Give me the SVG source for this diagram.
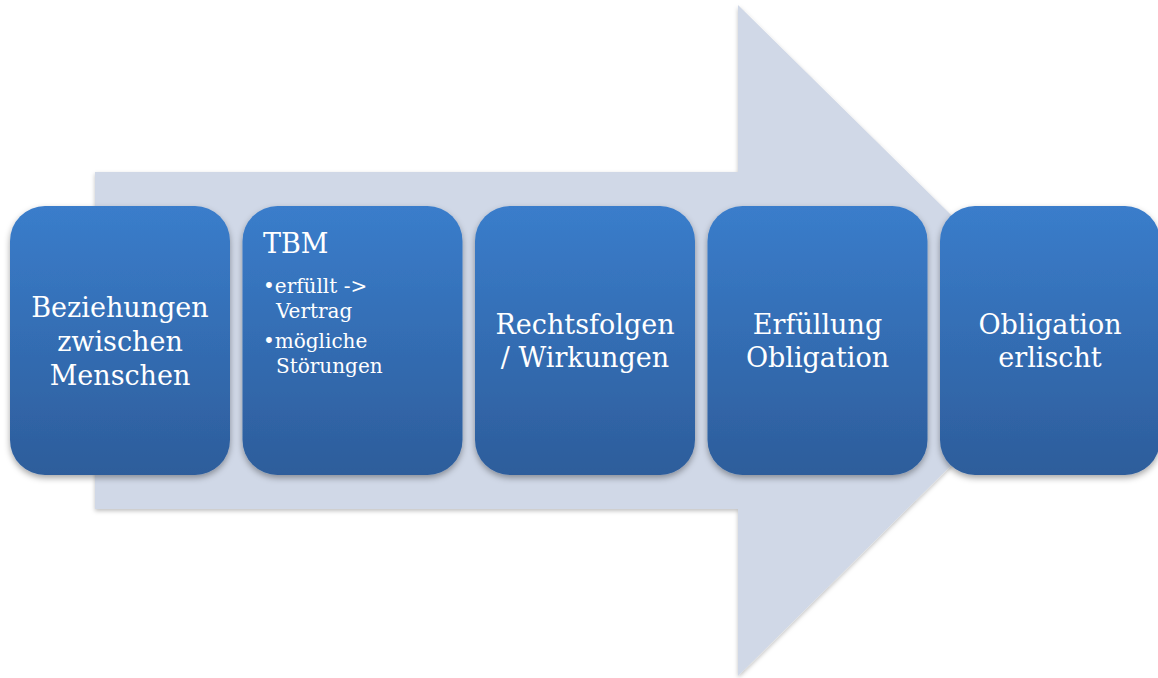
<svg xmlns="http://www.w3.org/2000/svg" width="1158" height="678" viewBox="0 0 1158 678">
<defs>
<linearGradient id="bg" x1="0" y1="0" x2="0" y2="1">
<stop offset="0" stop-color="#3a7dcb"/>
<stop offset="1" stop-color="#2d5d9b"/>
</linearGradient>
<filter id="sh" x="-10%" y="-10%" width="120%" height="120%">
<feDropShadow dx="0" dy="3" stdDeviation="3" flood-color="#000" flood-opacity="0.35"/>
</filter>
<filter id="ash" x="-5%" y="-5%" width="110%" height="110%">
<feDropShadow dx="0" dy="2" stdDeviation="2" flood-color="#000" flood-opacity="0.25"/>
</filter>
</defs>
<style>
.box{fill:url(#bg);filter:url(#sh);}
.t{font-family:"DejaVu Serif","Liberation Serif",serif;fill:#fff;font-size:27px;text-anchor:middle;}
.s{font-family:"DejaVu Serif","Liberation Serif",serif;fill:#fff;font-size:20px;}
</style>
<rect width="1158" height="678" fill="#fff"/>
<g id="arrow">
<polygon points="95,172 738,172 738,5 1078,340 738,676 738,509 95,509" fill="#d0d8e7" filter="url(#ash)"/>
</g>
<g id="connectors"></g>
<g id="n1">
<rect class="box" x="10" y="206" width="220" height="269" rx="35"/>
<text class="t" x="120" y="317">Beziehungen</text>
<text class="t" x="120" y="351">zwischen</text>
<text class="t" x="120" y="385">Menschen</text>
</g>
<g id="n2">
<rect class="box" x="242.5" y="206" width="220" height="269" rx="35"/>
<text class="t" x="263" y="253" style="text-anchor:start">TBM</text>
<text class="s" x="263" y="293">•erfüllt -&gt;</text>
<text class="s" x="276" y="318">Vertrag</text>
<text class="s" x="263" y="348">•mögliche</text>
<text class="s" x="276" y="373">Störungen</text>
</g>
<g id="n3">
<rect class="box" x="475" y="206" width="220" height="269" rx="35"/>
<text class="t" x="585" y="334">Rechtsfolgen</text>
<text class="t" x="585" y="367">/ Wirkungen</text>
</g>
<g id="n4">
<rect class="box" x="707.5" y="206" width="220" height="269" rx="35"/>
<text class="t" x="817.5" y="334">Erfüllung</text>
<text class="t" x="817.5" y="367">Obligation</text>
</g>
<g id="n5">
<rect class="box" x="940" y="206" width="220" height="269" rx="35"/>
<text class="t" x="1050" y="334">Obligation</text>
<text class="t" x="1050" y="367">erlischt</text>
</g>
</svg>
